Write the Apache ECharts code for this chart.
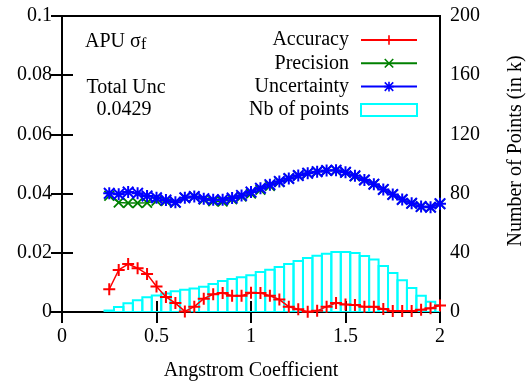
<!DOCTYPE html>
<html><head><meta charset="utf-8">
<script src="https://cdn.jsdelivr.net/npm/echarts@6/dist/echarts.min.js"></script>
<style>html,body{margin:0;padding:0;background:#fff}#c{width:529px;height:384px}</style>
</head><body><div id="c"></div>
<script>
const angstrom = [0.25,0.30,0.35,0.40,0.45,0.50,0.55,0.60,0.65,0.70,0.75,0.80,0.85,0.90,0.95,1.00,1.05,1.10,1.15,1.20,1.25,1.30,1.35,1.40,1.45,1.50,1.55,1.60,1.65,1.70,1.75,1.80,1.85,1.90,1.95,2.00];
const accuracy = [0.0077,0.0142,0.0162,0.0148,0.0128,0.0086,0.0051,0.0030,0.0002,0.0018,0.0045,0.0060,0.0064,0.0055,0.0055,0.0065,0.0064,0.0055,0.0042,0.0018,0.0009,0.0001,0.0004,0.0018,0.0030,0.0025,0.0024,0.0018,0.0018,0.0010,0.0003,0.0003,0.0003,0.0008,0.0013,0.0022];
const precision = [0.0393,0.0370,0.0368,0.0368,0.0369,0.0376,0.0375,0.0370,0.0386,0.0390,0.0380,0.0374,0.0373,0.0381,0.0390,0.0400,0.0413,0.0426,0.0439,0.0451,0.0461,0.0469,0.0474,0.0478,0.0478,0.0471,0.0459,0.0446,0.0432,0.0414,0.0397,0.0380,0.0367,0.0356,0.0354,0.0366];
const uncertainty = [0.0401,0.0398,0.0405,0.0401,0.0392,0.0386,0.0378,0.0371,0.0386,0.0390,0.0383,0.0379,0.0379,0.0385,0.0394,0.0405,0.0418,0.0430,0.0441,0.0451,0.0461,0.0469,0.0474,0.0478,0.0479,0.0472,0.0460,0.0446,0.0432,0.0414,0.0397,0.0380,0.0367,0.0356,0.0354,0.0366];
const nbPoints = [1,3.3,5.9,8,10,11.2,12.5,14,15,15.8,17,19,21,22.3,23.5,24.8,27,28.6,30.4,32.4,34.5,36.5,38,39.4,40.6,40.6,39.8,37.8,35.4,31.1,26.4,21.4,16.2,10.9,7,4.7];
const binWidth = 0.05;
const seriesNames = ['Accuracy','Precision','Uncertainty','Nb of points'];
const xTickLabels = ['0','0.5','1','1.5','2'];
const leftTickLabels = ['0','0.02','0.04','0.06','0.08','0.1'];
const rightTickLabels = ['0','40','80','120','160','200'];
const titleText = 'APU σ';
const titleSub = 'f';
const totalLabel = 'Total Unc';
const totalValue = '0.0429';
const xName = 'Angstrom Coefficient';
const y2Name = 'Number of Points (in k)';

const FONT = '"Liberation Serif","Times New Roman",serif';
const PLUS = 'path://M5,0 H7 V5 H12 V7 H7 V12 H5 V7 H0 V5 H5 Z';
const CROSS = 'path://M0,1.4 L1.4,0 L6,4.6 L10.6,0 L12,1.4 L7.4,6 L12,10.6 L10.6,12 L6,7.4 L1.4,12 L0,10.6 L4.6,6 Z';
const STAR = 'path://M5,0 H7 V5 H12 V7 H7 V12 H5 V7 H0 V5 H5 Z M0,1.4 L1.4,0 L6,4.6 L10.6,0 L12,1.4 L7.4,6 L12,10.6 L10.6,12 L6,7.4 L1.4,12 L0,10.6 L4.6,6 Z';

const chart = echarts.init(document.getElementById('c'), null, {renderer:'canvas'});
const pairs = arr => angstrom.map((x,i)=>[x, arr[i]]);
const lbl = {fontFamily:FONT, fontSize:20, color:'#000'};

const legends = seriesNames.map((name,i)=>({
  data: name === 'Nb of points'
    ? [{name, icon:'rect', itemStyle:{color:'rgba(255,255,255,0)', borderColor:'#00ffff', borderWidth:2}}]
    : [name],
  orient:'vertical', align:'right', right:111, top:30 + i*23.3, padding:0,
  itemWidth:56, itemHeight:12, selectedMode:false,
  textStyle:{fontFamily:FONT, fontSize:20, color:'#000', padding:[0,7,0,0]}
}));

chart.setOption({
  animation:false,
  grid:{left:62, right:89, top:16, bottom:72, show:true, borderColor:'#000', borderWidth:2, backgroundColor:'transparent'},
  legend: legends,
  xAxis:[
    {type:'value', min:0, max:2, interval:0.5, position:'bottom',
     axisLine:{show:false}, splitLine:{show:false},
     axisTick:{show:true, inside:true, length:11, lineStyle:{color:'#000', width:2}},
     axisLabel:{...lbl, margin:15, formatter:(v)=>xTickLabels[Math.round(v/0.5)]}},
    {type:'value', min:0, max:2, interval:0.5, position:'top',
     axisLine:{show:false}, splitLine:{show:false},
     axisTick:{show:true, inside:true, length:11, lineStyle:{color:'#000', width:2}},
     axisLabel:{show:false}}
  ],
  yAxis:[
    {type:'value', min:0, max:0.1, interval:0.02, position:'left',
     axisLine:{show:false}, splitLine:{show:false},
     axisTick:{show:true, inside:true, length:11, lineStyle:{color:'#000', width:2}},
     axisLabel:{...lbl, margin:10, formatter:(v)=>leftTickLabels[Math.round(v/0.02)]}},
    {type:'value', min:0, max:200, interval:40, position:'right',
     axisLine:{show:false}, splitLine:{show:false},
     axisTick:{show:true, inside:true, length:11, lineStyle:{color:'#000', width:2}},
     axisLabel:{...lbl, margin:10, formatter:(v)=>rightTickLabels[Math.round(v/40)]}}
  ],
  series:[
    {name:'Nb of points', type:'custom', xAxisIndex:0, yAxisIndex:1, clip:true,
     itemStyle:{color:'rgba(255,255,255,0)', borderColor:'#00ffff', borderWidth:2},
     data: pairs(nbPoints),
     renderItem:(params, api)=>{
       const x = api.value(0), v = api.value(1);
       const p0 = api.coord([x - binWidth/2, 0]);
       const p1 = api.coord([x + binWidth/2, v]);
       const cs = params.coordSys;
       const l = Math.max(p0[0], cs.x), r = Math.min(p1[0], cs.x + cs.width);
       return {type:'rect', shape:{x:l, y:p1[1], width:r-l, height:p0[1]-p1[1]},
               style:{fill:null, stroke:'#00ffff', lineWidth:2}};
     }},
    {name:'Accuracy', type:'line', data:pairs(accuracy), symbol:PLUS, symbolSize:12,
     lineStyle:{color:'#ff0000', width:1.5}, itemStyle:{color:'#ff0000'}, z:3},
    {name:'Precision', type:'line', data:pairs(precision), symbol:CROSS, symbolSize:11,
     lineStyle:{color:'#008000', width:1.5}, itemStyle:{color:'#008000'}, z:4},
    {name:'Uncertainty', type:'line', data:pairs(uncertainty), symbol:STAR, symbolSize:12,
     lineStyle:{color:'#0000ff', width:1.5}, itemStyle:{color:'#0000ff'}, z:5}
  ],
  graphic:[
    {type:'text', left:85, top:32, style:{text:titleText, font:'20px '+FONT, fill:'#000'}},
    {type:'text', left:141, top:37, style:{text:titleSub, font:'16px '+FONT, fill:'#000'}},
    {type:'text', x:126, y:88, style:{text:totalLabel, font:'20px '+FONT, fill:'#000', align:'center', verticalAlign:'middle', textAlign:'center', textVerticalAlign:'middle'}},
    {type:'text', x:124, y:110, style:{text:totalValue, font:'20px '+FONT, fill:'#000', align:'center', verticalAlign:'middle', textAlign:'center', textVerticalAlign:'middle'}},
    {type:'text', x:251, y:371, style:{text:xName, font:'20px '+FONT, fill:'#000', align:'center', verticalAlign:'middle', textAlign:'center', textVerticalAlign:'middle'}},
    {type:'text', x:516, y:151, rotation:Math.PI/2, style:{text:y2Name, font:'20px '+FONT, fill:'#000', align:'center', verticalAlign:'middle', textAlign:'center', textVerticalAlign:'middle'}}
  ]
});
</script></body></html>
